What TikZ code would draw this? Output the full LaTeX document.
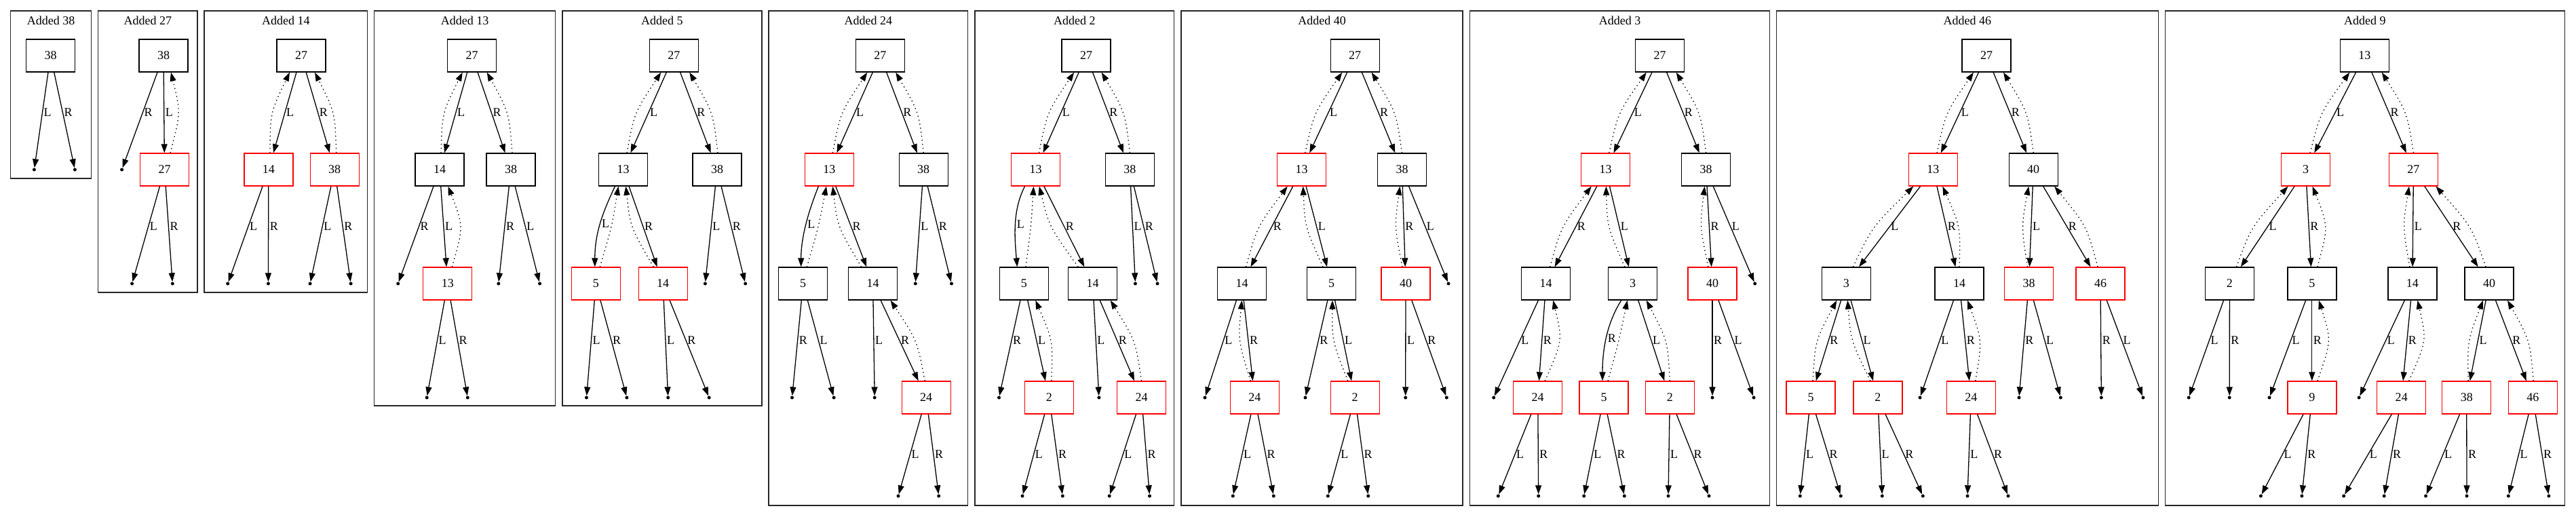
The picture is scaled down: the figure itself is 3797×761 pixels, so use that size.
\documentclass[tikz,border=0pt]{standalone}
\usepackage{fontspec}
\setmainfont{Liberation Serif}
\usetikzlibrary{arrows.meta,calc}
\tikzset{
  bk/.style={draw=black, line width=1.35pt, minimum width=72pt, minimum height=48pt, inner sep=0pt},
  rd/.style={bk, draw=red},
  nul/.style={circle, fill=black, inner sep=0pt, minimum size=5pt},
  tedge/.style={-{Triangle[length=13pt,width=9pt]}, line width=1.3pt},
  pedge/.style={tedge, dash pattern=on 1.4pt off 4.6pt},
  lab/.style={anchor=west, inner sep=1.5pt},
  panel/.style={draw=black!85, line width=1.35pt},
  ttl/.style={inner sep=0pt},
}
\newcommand\tb[3]{\draw[tedge] (#1) -- node[lab,pos=.5]{#3} (#2);}
\newcommand\tn[3]{\draw[tedge] (#1) -- node[lab,pos=.42]{#3} (#2);}
\newcommand\pe[5]{\coordinate (s) at ([xshift=#2pt]#1.north);
  \coordinate (t) at ([xshift=#4pt]#3.south);
  \draw[pedge] (s) .. controls ($(s)!0.5!(t)+(#5,0)$) .. (t);}
\begin{document}
\begin{tikzpicture}[x=1pt,y=1pt,font=\fontsize{18}{20}\selectfont]
\useasboundingbox (0,0) rectangle (3797,-761);
% ---------- panels ----------
\draw[panel] (15.7,-16) rectangle (134.6,-263);
\draw[panel] (144.6,-16) rectangle (291.1,-431);
\draw[panel] (301,-16) rectangle (541.8,-431);
\draw[panel] (551.5,-16) rectangle (818.6,-598);
\draw[panel] (828.9,-16) rectangle (1122.9,-598);
\draw[panel] (1133.1,-16) rectangle (1426.6,-745);
\draw[panel] (1436.9,-16) rectangle (1730.7,-745);
\draw[panel] (1741,-16) rectangle (2156,-745);
\draw[panel] (2166.7,-16) rectangle (2608.3,-745);
\draw[panel] (2618.3,-16) rectangle (3181.3,-745);
\draw[panel] (3191.2,-16) rectangle (3780.6,-745);
\node[ttl] (tA) at (75.2,-30) {Added 38};
\node[ttl] (tB) at (217.9,-30) {Added 27};
\node[ttl] (tC) at (421.4,-30) {Added 14};
\node[ttl] (tD) at (685,-30) {Added 13};
\node[ttl] (tE) at (975.9,-30) {Added 5};
\node[ttl] (tF) at (1279.9,-30) {Added 24};
\node[ttl] (tG) at (1583.8,-30) {Added 2};
\node[ttl] (tH) at (1948.5,-30) {Added 40};
\node[ttl] (tI) at (2387.5,-30) {Added 3};
\node[ttl] (tJ) at (2899.8,-30) {Added 46};
\node[ttl] (tK) at (3485.9,-30) {Added 9};
% ---------- A: Added 38 ----------
\node[bk] (a38) at (74.5,-82) {38};
\node[nul] (a38l) at (50.4,-250) {};
\node[nul] (a38r) at (110.4,-250) {};
\tn{a38}{a38l}{L} \tn{a38}{a38r}{R}
% ---------- B: Added 27 ----------
\node[bk] (b38) at (241,-82) {38};
\node[rd] (b27) at (242.5,-250) {27};
\node[nul] (b38r) at (179.6,-250) {};
\node[nul] (b27l) at (194.6,-418) {};
\node[nul] (b27r) at (254.3,-418) {};
\tn{b38}{b38r}{R} \tb{b38}{b27}{L} \tn{b27}{b27l}{L} \tn{b27}{b27r}{R}
\pe{b27}{8.5}{b38}{11}{15}
% ---------- C: Added 14 ----------
\node[bk] (c27) at (444,-82) {27};
\node[rd] (c14) at (395.9,-250) {14};
\node[rd] (c38) at (493.2,-250) {38};
\node[nul] (c14l) at (335.7,-418) {};
\node[nul] (c14r) at (395.4,-418) {};
\node[nul] (c38l) at (457.1,-418) {};
\node[nul] (c38r) at (517.1,-418) {};
\tb{c27}{c14}{L} \tb{c27}{c38}{R}
\tn{c14}{c14l}{L} \tn{c14}{c14r}{R} \tn{c38}{c38l}{L} \tn{c38}{c38r}{R}
\pe{c14}{2}{c27}{-17}{-14} \pe{c38}{2.5}{c27}{20}{14}
% ---------- D: Added 13 ----------
\node[bk] (d27) at (695.7,-82) {27};
\node[bk] (d14) at (648,-250) {14};
\node[bk] (d38) at (753,-250) {38};
\node[rd] (d13) at (659.8,-418) {13};
\node[nul] (d14r) at (586.7,-418) {};
\node[nul] (d38r) at (734.8,-418) {};
\node[nul] (d38l) at (795.6,-418) {};
\node[nul] (d13l) at (629.2,-586) {};
\node[nul] (d13r) at (689.3,-586) {};
\tb{d27}{d14}{L} \tb{d27}{d38}{R}
\tn{d14}{d14r}{R} \tb{d14}{d13}{L} \tn{d38}{d38r}{R} \tn{d38}{d38l}{L}
\tn{d13}{d13l}{L} \tn{d13}{d13r}{R}
\pe{d14}{2}{d27}{-14}{-14} \pe{d38}{2}{d27}{22}{14} \pe{d13}{6.5}{d14}{12.5}{20}
% ---------- E: Added 5 ----------
\node[bk] (e27) at (993.3,-82) {27};
\node[bk] (e13) at (918.5,-250) {13};
\node[bk] (e38) at (1057,-250) {38};
\node[rd] (e5) at (878.3,-418) {5};
\node[rd] (e14) at (977.2,-418) {14};
\node[nul] (e38l) at (1039.4,-418) {};
\node[nul] (e38r) at (1098.7,-418) {};
\node[nul] (e5l) at (864.5,-586) {};
\node[nul] (e5r) at (923.9,-586) {};
\node[nul] (e14l) at (984.7,-586) {};
\node[nul] (e14r) at (1045.2,-586) {};
\tb{e27}{e13}{L} \tb{e27}{e38}{R}
\draw[tedge] ([xshift=-12pt]e13.south) .. controls +(-18,-38) and +(0,50) .. node[lab,pos=.5]{L} ([xshift=-1.5pt]e5.north);
\tb{e13}{e14}{R}
\tn{e38}{e38l}{L} \tn{e38}{e38r}{R}
\tn{e5}{e5l}{L} \tn{e5}{e5r}{R} \tn{e14}{e14l}{L} \tn{e14}{e14r}{R}
\pe{e13}{5.4}{e27}{-19}{-14} \pe{e38}{1}{e27}{23}{14}
\pe{e5}{6}{e13}{-7}{4} \pe{e14}{-14}{e13}{4}{-14}
% ---------- F: Added 24 ----------
\node[bk] (f27) at (1297.3,-82) {27};
\node[rd] (f13) at (1222.4,-250) {13};
\node[bk] (f38) at (1361.2,-250) {38};
\node[bk] (f5) at (1183.7,-418) {5};
\node[bk] (f14) at (1286.6,-418) {14};
\node[rd] (f24) at (1365.2,-586) {24};
\node[nul] (f38l) at (1349.3,-418) {};
\node[nul] (f38r) at (1402.5,-418) {};
\node[nul] (f5r) at (1167.5,-586) {};
\node[nul] (f5l) at (1229.1,-586) {};
\node[nul] (f14l) at (1289.2,-586) {};
\node[nul] (f24l) at (1324,-731) {};
\node[nul] (f24r) at (1383.7,-731) {};
\tb{f27}{f13}{L} \tb{f27}{f38}{R}
\draw[tedge] ([xshift=-16pt]f13.south) .. controls +(-14,-35) and +(0,45) .. node[lab,pos=.5]{L} ([xshift=-3pt]f5.north);
\tb{f13}{f14}{R}
\tn{f38}{f38l}{L} \tn{f38}{f38r}{R}
\tn{f5}{f5r}{R} \tn{f5}{f5l}{L} \tn{f14}{f14l}{L} \tb{f14}{f24}{R}
\tb{f24}{f24l}{L} \tb{f24}{f24r}{R}
\pe{f13}{5}{f27}{-19}{-14} \pe{f38}{0}{f27}{23}{14}
\pe{f5}{5.6}{f13}{-4.4}{3} \pe{f14}{-17}{f13}{5}{-14} \pe{f24}{-2}{f14}{26}{14}
% ---------- G: Added 2 ----------
\node[bk] (g27) at (1601.1,-82) {27};
\node[rd] (g13) at (1526.5,-250) {13};
\node[bk] (g38) at (1665.4,-250) {38};
\node[bk] (g5) at (1509.3,-418) {5};
\node[bk] (g14) at (1610.7,-418) {14};
\node[rd] (g2) at (1546.4,-586) {2};
\node[rd] (g24) at (1682.6,-586) {24};
\node[nul] (g38l) at (1673.4,-418) {};
\node[nul] (g38r) at (1706,-418) {};
\node[nul] (g5r) at (1472.5,-586) {};
\node[nul] (g14l) at (1619.9,-586) {};
\node[nul] (g2l) at (1507,-731) {};
\node[nul] (g2r) at (1566.3,-731) {};
\node[nul] (g24l) at (1635.2,-731) {};
\node[nul] (g24r) at (1694.5,-731) {};
\tb{g27}{g13}{L} \tb{g27}{g38}{R}
\draw[tedge] ([xshift=-16pt]g13.south) .. controls +(-18,-35) and +(-4,45) .. node[lab,pos=.5]{L} ([xshift=-10pt]g5.north);
\tb{g13}{g14}{R}
\tn{g38}{g38l}{L} \tn{g38}{g38r}{R}
\tn{g5}{g5r}{R} \tb{g5}{g2}{L} \tn{g14}{g14l}{L} \tb{g14}{g24}{R}
\tb{g2}{g2l}{L} \tb{g2}{g2r}{R} \tb{g24}{g24l}{L} \tb{g24}{g24r}{R}
\pe{g13}{5}{g27}{-18}{-14} \pe{g38}{0}{g27}{22.6}{14}
\pe{g5}{2.6}{g13}{-3}{2} \pe{g14}{-21.5}{g13}{5.3}{-14}
\pe{g2}{3.4}{g5}{17}{14} \pe{g24}{0}{g14}{26}{14}
% ---------- H: Added 40 ----------
\node[bk] (h27) at (1997.2,-82) {27};
\node[rd] (h13) at (1918.7,-250) {13};
\node[bk] (h38) at (2066.5,-250) {38};
\node[bk] (h14) at (1830.5,-418) {14};
\node[bk] (h5) at (1962.5,-418) {5};
\node[rd] (h40) at (2072,-418) {40};
\node[rd] (h24) at (1849.3,-586) {24};
\node[rd] (h2) at (1997.2,-586) {2};
\node[nul] (h38l) at (2135,-418) {};
\node[nul] (h14l) at (1776,-586) {};
\node[nul] (h5r) at (1924,-586) {};
\node[nul] (h40l) at (2071.7,-586) {};
\node[nul] (h40r) at (2132.3,-586) {};
\node[nul] (h24l) at (1817.3,-731) {};
\node[nul] (h24r) at (1877.3,-731) {};
\node[nul] (h2l) at (1957.3,-731) {};
\node[nul] (h2r) at (2016.7,-731) {};
\tb{h27}{h13}{L} \tb{h27}{h38}{R}
\tb{h13}{h14}{R} \tb{h13}{h5}{L} \tb{h38}{h40}{R} \tn{h38}{h38l}{L}
\tn{h14}{h14l}{L} \tb{h14}{h24}{R} \tn{h5}{h5r}{R} \tb{h5}{h2}{L}
\tn{h40}{h40l}{L} \tn{h40}{h40r}{R}
\tb{h24}{h24l}{L} \tb{h24}{h24r}{R} \tb{h2}{h2l}{L} \tb{h2}{h2r}{R}
\pe{h13}{5}{h27}{-19}{-14} \pe{h38}{0}{h27}{24.5}{14}
\pe{h14}{6}{h13}{-21}{-14} \pe{h5}{-12.5}{h13}{2}{-12}
\pe{h40}{-5}{h38}{-3}{-10} \pe{h24}{-6}{h14}{0}{-12} \pe{h2}{-10.5}{h5}{1.5}{-12}
% ---------- I: Added 3 ----------
\node[bk] (i27) at (2446.7,-82) {27};
\node[rd] (i13) at (2366.7,-250) {13};
\node[bk] (i38) at (2514.7,-250) {38};
\node[bk] (i14) at (2278.7,-418) {14};
\node[bk] (i3) at (2406.7,-418) {3};
\node[rd] (i40) at (2524,-418) {40};
\node[rd] (i24) at (2266.7,-586) {24};
\node[rd] (i5) at (2364,-586) {5};
\node[rd] (i2) at (2461.3,-586) {2};
\node[nul] (i38l) at (2586.7,-418) {};
\node[nul] (i14l) at (2201.7,-586) {};
\node[nul] (i40r) at (2524,-586) {};
\node[nul] (i40l) at (2585,-586) {};
\node[nul] (i24l) at (2208.3,-731) {};
\node[nul] (i24r) at (2267.7,-731) {};
\node[nul] (i5l) at (2334.7,-731) {};
\node[nul] (i5r) at (2394.3,-731) {};
\node[nul] (i2l) at (2459,-731) {};
\node[nul] (i2r) at (2519,-731) {};
\tb{i27}{i13}{L} \tb{i27}{i38}{R}
\tb{i13}{i14}{R} \tb{i13}{i3}{L} \tb{i38}{i40}{R} \tn{i38}{i38l}{L}
\tn{i14}{i14l}{L} \tb{i14}{i24}{R}
\draw[tedge] ([xshift=-17pt]i3.south) .. controls +(-22,-35) and +(0,45) .. node[lab,pos=.5]{R} ([xshift=-2pt]i5.north);
\tb{i3}{i2}{L} \tn{i40}{i40r}{R} \tn{i40}{i40l}{L}
\tb{i24}{i24l}{L} \tb{i24}{i24r}{R} \tb{i5}{i5l}{L} \tb{i5}{i5r}{R}
\tb{i2}{i2l}{L} \tb{i2}{i2r}{R}
\pe{i13}{5}{i27}{-20}{-14} \pe{i38}{0}{i27}{24}{14}
\pe{i14}{6}{i13}{-21}{-14} \pe{i3}{-12}{i13}{0.6}{-12}
\pe{i40}{-6}{i38}{-2}{-10} \pe{i24}{10.6}{i14}{10.6}{20}
\pe{i5}{6}{i3}{-8}{2} \pe{i2}{0}{i3}{20}{14}
% ---------- J: Added 46 ----------
\node[bk] (j27) at (2928,-82) {27};
\node[rd] (j13) at (2849.3,-250) {13};
\node[bk] (j40) at (2997.2,-250) {40};
\node[bk] (j3) at (2721.3,-418) {3};
\node[bk] (j14) at (2888,-418) {14};
\node[rd] (j38) at (2990.5,-418) {38};
\node[rd] (j46) at (3096,-418) {46};
\node[rd] (j5) at (2669,-586) {5};
\node[rd] (j2) at (2767.8,-586) {2};
\node[rd] (j24) at (2905.3,-586) {24};
\node[nul] (j14l) at (2830,-586) {};
\node[nul] (j38r) at (2976,-586) {};
\node[nul] (j38l) at (3037.3,-586) {};
\node[nul] (j46r) at (3097.3,-586) {};
\node[nul] (j46l) at (3158.9,-586) {};
\node[nul] (j5l) at (2653.3,-731) {};
\node[nul] (j5r) at (2713.3,-731) {};
\node[nul] (j2l) at (2774.3,-731) {};
\node[nul] (j2r) at (2834.3,-731) {};
\node[nul] (j24l) at (2900,-731) {};
\node[nul] (j24r) at (2960,-731) {};
\tb{j27}{j13}{L} \tb{j27}{j40}{R}
\tb{j13}{j3}{L} \tb{j13}{j14}{R} \tb{j40}{j38}{L} \tb{j40}{j46}{R}
\tb{j3}{j5}{R} \tb{j3}{j2}{L} \tn{j14}{j14l}{L} \tb{j14}{j24}{R}
\tn{j38}{j38r}{R} \tn{j38}{j38l}{L} \tn{j46}{j46r}{R} \tn{j46}{j46l}{L}
\tb{j5}{j5l}{L} \tb{j5}{j5r}{R} \tb{j2}{j2l}{L} \tb{j2}{j2r}{R}
\tb{j24}{j24l}{L} \tb{j24}{j24r}{R}
\pe{j13}{5.7}{j27}{-19}{-14} \pe{j40}{0}{j27}{25}{14}
\pe{j3}{10}{j13}{-29}{-16} \pe{j14}{0}{j13}{14}{14}
\pe{j38}{-2}{j40}{-7}{-10} \pe{j46}{-4}{j40}{31}{16}
\pe{j5}{3}{j3}{-14}{-14} \pe{j2}{-11}{j3}{2}{-12} \pe{j24}{6.4}{j14}{12}{16}
% ---------- K: Added 9 ----------
\node[bk] (k13) at (3485.3,-82) {13};
\node[rd] (k3) at (3398.5,-250) {3};
\node[rd] (k27) at (3557.4,-250) {27};
\node[bk] (k2) at (3286.4,-418) {2};
\node[bk] (k5) at (3407.8,-418) {5};
\node[bk] (k14) at (3555.9,-418) {14};
\node[bk] (k40) at (3669,-418) {40};
\node[rd] (k9) at (3407.8,-586) {9};
\node[rd] (k24) at (3539.7,-586) {24};
\node[rd] (k38) at (3635.7,-586) {38};
\node[rd] (k46) at (3733.2,-586) {46};
\node[nul] (k2l) at (3226.2,-586) {};
\node[nul] (k2r) at (3286.2,-586) {};
\node[nul] (k5l) at (3345,-586) {};
\node[nul] (k14l) at (3477.1,-586) {};
\node[nul] (k9l) at (3332.4,-731) {};
\node[nul] (k9r) at (3392.9,-731) {};
\node[nul] (k24l) at (3454.6,-731) {};
\node[nul] (k24r) at (3514.2,-731) {};
\node[nul] (k38l) at (3575.5,-731) {};
\node[nul] (k38r) at (3636,-731) {};
\node[nul] (k46l) at (3697.3,-731) {};
\node[nul] (k46r) at (3756.9,-731) {};
\tb{k13}{k3}{L} \tb{k13}{k27}{R}
\tb{k3}{k2}{L} \tb{k3}{k5}{R} \tb{k27}{k14}{L} \tb{k27}{k40}{R}
\tn{k2}{k2l}{L} \tn{k2}{k2r}{R} \tn{k5}{k5l}{L} \tb{k5}{k9}{R}
\tn{k14}{k14l}{L} \tb{k14}{k24}{R} \tb{k40}{k38}{L} \tb{k40}{k46}{R}
\tb{k9}{k9l}{L} \tb{k9}{k9r}{R} \tb{k24}{k24l}{L} \tb{k24}{k24r}{R}
\tb{k38}{k38l}{L} \tb{k38}{k38r}{R} \tb{k46}{k46l}{L} \tb{k46}{k46r}{R}
\pe{k3}{6.5}{k13}{-22}{-14} \pe{k27}{0}{k13}{25.5}{14}
\pe{k2}{10}{k3}{-26}{-16} \pe{k5}{8}{k3}{10}{20}
\pe{k14}{-4}{k27}{-6.4}{-10} \pe{k40}{-5}{k27}{33}{16}
\pe{k9}{8}{k5}{10}{20} \pe{k24}{11}{k14}{7.5}{20}
\pe{k38}{2.4}{k40}{-9}{-12} \pe{k46}{1}{k40}{27}{14}
\end{tikzpicture}
\end{document}
